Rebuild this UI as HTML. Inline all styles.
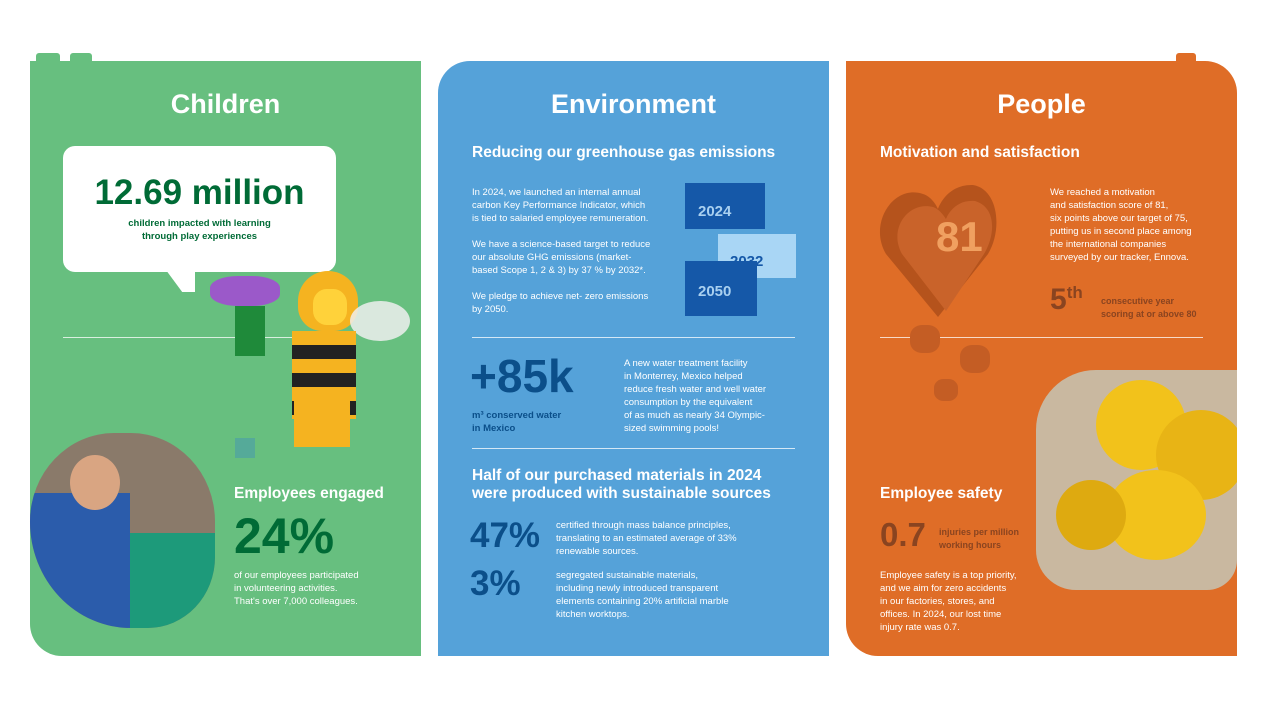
<!DOCTYPE html>
<html><head><meta charset="utf-8"><style>
*{margin:0;padding:0;box-sizing:border-box}
body{width:1280px;height:720px;background:#fff;position:relative;overflow:hidden;font-family:"Liberation Sans","DejaVu Sans",sans-serif}
.a{position:absolute}
.p{position:absolute;top:61px;width:391px;height:595px}
h1{position:absolute;width:100%;text-align:center;top:28px;color:#fff;font-size:27px;font-weight:bold}
.t{color:#fff;font-size:9.5px;line-height:13px}
.h{color:#fff;font-size:15.5px;font-weight:bold}
.hr{position:absolute;height:1px;background:rgba(255,255,255,.75)}
</style></head><body>
<!-- green -->
<div class="a" style="left:36px;top:53px;width:24px;height:10px;background:#67bf7f;border-radius:3px 3px 0 0"></div>
<div class="a" style="left:70px;top:53px;width:22px;height:10px;background:#67bf7f;border-radius:3px 3px 0 0"></div>
<div class="p" style="left:30px;background:#67bf7f;border-radius:0 0 0 32px">
<h1>Children</h1>
<div class="a" style="left:33px;top:85px;width:273px;height:126px;background:#fff;border-radius:12px"></div>
<div class="a" style="left:133px;top:205px;width:32px;height:26px;background:#fff;clip-path:polygon(0 0,100% 0,100% 100%,60% 100%)"></div>
<div class="a" style="left:33px;top:112px;width:273px;text-align:center;color:#006b36;font-size:35px;font-weight:bold">12.69 million</div>
<div class="a" style="left:33px;top:156px;width:273px;text-align:center;color:#006b36;font-size:9.5px;font-weight:bold;line-height:13px">children impacted with learning<br>through play experiences</div>
<div class="hr" style="left:33px;top:276px;width:230px"></div>
<!-- bee figure -->
<div class="a" style="left:268px;top:210px;width:60px;height:60px;background:#f5b320;border-radius:50% 50% 40% 40%"></div>
<div class="a" style="left:283px;top:228px;width:34px;height:36px;background:#ffd23a;border-radius:40%"></div>
<div class="a" style="left:320px;top:240px;width:60px;height:40px;background:#eee;border-radius:50%;opacity:.85"></div>
<div class="a" style="left:262px;top:270px;width:64px;height:88px;background:repeating-linear-gradient(#f5b320 0 14px,#222 14px 28px)"></div>
<div class="a" style="left:264px;top:330px;width:56px;height:56px;background:#f5b320"></div>
<div class="a" style="left:180px;top:215px;width:70px;height:30px;background:#9b59c9;border-radius:40%"></div>
<div class="a" style="left:205px;top:245px;width:30px;height:50px;background:#1f8a3a"></div>
<div class="a" style="left:205px;top:377px;width:20px;height:20px;background:#5a9"></div>
<div class="a" style="left:0;top:372px;width:185px;height:195px;background:#8a7a6a;border-radius:50% 50% 40% 60%;overflow:hidden">
<div class="a" style="left:0;top:60px;width:100px;height:135px;background:#2b5cab"></div>
<div class="a" style="left:100px;top:100px;width:85px;height:95px;background:#1d9a7a"></div>
<div class="a" style="left:40px;top:22px;width:50px;height:55px;background:#d9a582;border-radius:50%"></div>
</div>
<div class="a h" style="left:204px;top:424px">Employees engaged</div>
<div class="a" style="left:204px;top:446px;color:#006b36;font-size:50px;font-weight:bold">24%</div>
<div class="a t" style="left:204px;top:508px">of our employees participated<br>in volunteering activities.<br>That's over 7,000 colleagues.</div>
</div>
<!-- blue -->
<div class="a" style="left:795px;top:61px;width:10px;height:8px;background:#fff"></div>
<div class="a" style="left:815px;top:61px;width:10px;height:8px;background:#fff"></div>
<div class="p" style="left:438px;background:#55a2d9;border-radius:32px 0 0 0">
<h1>Environment</h1>
<div class="a h" style="left:34px;top:83px">Reducing our greenhouse gas emissions</div>
<div class="a t" style="left:34px;top:125px">In 2024, we launched an internal annual<br>carbon Key Performance Indicator, which<br>is tied to salaried employee remuneration.<br><br>We have a science-based target to reduce<br>our absolute GHG emissions (market-<br>based Scope 1, 2 &amp; 3) by 37 % by 2032*.<br><br>We pledge to achieve net- zero emissions<br>by 2050.</div>
<div class="a" style="left:247px;top:122px;width:80px;height:46px;background:#1558a8"></div>
<div class="a" style="left:260px;top:142px;color:#a9d0f0;font-size:15px;font-weight:bold">2024</div>
<div class="a" style="left:280px;top:173px;width:78px;height:44px;background:#a9d6f5"></div>
<div class="a" style="left:292px;top:192px;color:#1558a8;font-size:15px;font-weight:bold">2032</div>
<div class="a" style="left:247px;top:200px;width:72px;height:55px;background:#1558a8"></div>
<div class="a" style="left:260px;top:222px;color:#a9d0f0;font-size:15px;font-weight:bold">2050</div>
<div class="hr" style="left:34px;top:276px;width:323px"></div>
<div class="a" style="left:32px;top:288px;color:#0b4f8a;font-size:46px;font-weight:bold">+85k</div>
<div class="a" style="left:34px;top:348px;color:#0b4f8a;font-size:9.5px;font-weight:bold;line-height:13px">m³ conserved water<br>in Mexico</div>
<div class="a t" style="left:186px;top:296px">A new water treatment facility<br>in Monterrey, Mexico helped<br>reduce fresh water and well water<br>consumption by the equivalent<br>of as much as nearly 34 Olympic-<br>sized swimming pools!</div>
<div class="hr" style="left:34px;top:387px;width:323px"></div>
<div class="a h" style="left:34px;top:406px;line-height:18px">Half of our purchased materials in 2024<br>were produced with sustainable sources</div>
<div class="a" style="left:32px;top:455px;color:#0b4f8a;font-size:35px;font-weight:bold">47%</div>
<div class="a t" style="left:118px;top:458px">certified through mass balance principles,<br>translating to an estimated average of 33%<br>renewable sources.</div>
<div class="a" style="left:32px;top:503px;color:#0b4f8a;font-size:35px;font-weight:bold">3%</div>
<div class="a t" style="left:118px;top:508px">segregated sustainable materials,<br>including newly introduced transparent<br>elements containing 20% artificial marble<br>kitchen worktops.</div>
</div>
<!-- orange -->
<div class="a" style="left:1176px;top:53px;width:20px;height:10px;background:#df6d27;border-radius:3px 3px 0 0"></div>
<div class="p" style="left:846px;background:#df6d27;border-radius:0 32px 0 32px">
<h1>People</h1>
<div class="a h" style="left:34px;top:83px">Motivation and satisfaction</div>
<svg class="a" style="left:32px;top:118px" width="120" height="140" viewBox="0 0 120 140"><path d="M60 138 L8 75 C-10 45 15 5 45 15 C55 18 60 30 60 30 C60 30 68 5 95 6 C120 10 125 50 110 75 Z" fill="#b5531c"/><path d="M68 132 L24 75 C10 50 30 22 55 28 C62 30 68 40 68 40 C68 40 75 20 97 22 C118 28 118 55 106 75 Z" fill="#c9632a"/></svg>
<div class="a" style="left:90px;top:152px;color:#f0a060;font-size:42px;font-weight:bold">81</div>
<div class="a t" style="left:204px;top:125px">We reached a motivation<br>and satisfaction score of 81,<br>six points above our target of 75,<br>putting us in second place among<br>the international companies<br>surveyed by our tracker, Ennova.</div>
<div class="a" style="left:204px;top:222px;color:#8a4420;font-size:30px;font-weight:bold">5<sup style="font-size:17px">th</sup></div>
<div class="a" style="left:255px;top:234px;color:#8a4420;font-size:9px;font-weight:bold;line-height:13px">consecutive year<br>scoring at or above 80</div>
<div class="hr" style="left:34px;top:276px;width:323px"></div>
<div class="a" style="left:64px;top:264px;width:30px;height:28px;background:#c45d24;border-radius:40%"></div>
<div class="a" style="left:114px;top:284px;width:30px;height:28px;background:#c45d24;border-radius:40%"></div>
<div class="a" style="left:88px;top:318px;width:24px;height:22px;background:#c45d24;border-radius:40%"></div>
<div class="a" style="left:190px;top:309px;width:201px;height:220px;background:#c9b8a0;border-radius:60px 0 30px 40px;overflow:hidden">
<div class="a" style="left:60px;top:10px;width:90px;height:90px;background:#f2c21b;border-radius:50%"></div>
<div class="a" style="left:120px;top:40px;width:90px;height:90px;background:#e8b415;border-radius:50%"></div>
<div class="a" style="left:70px;top:100px;width:100px;height:90px;background:#f2c21b;border-radius:50%"></div>
<div class="a" style="left:20px;top:110px;width:70px;height:70px;background:#deaa10;border-radius:50%"></div>
</div>
<div class="a h" style="left:34px;top:424px">Employee safety</div>
<div class="a" style="left:34px;top:455px;color:#8a4420;font-size:33px;font-weight:bold">0.7</div>
<div class="a" style="left:93px;top:465px;color:#8a4420;font-size:9px;font-weight:bold;line-height:13px">injuries per million<br>working hours</div>
<div class="a t" style="left:34px;top:508px">Employee safety is a top priority,<br>and we aim for zero accidents<br>in our factories, stores, and<br>offices. In 2024, our lost time<br>injury rate was 0.7.</div>
</div>
</body></html>
